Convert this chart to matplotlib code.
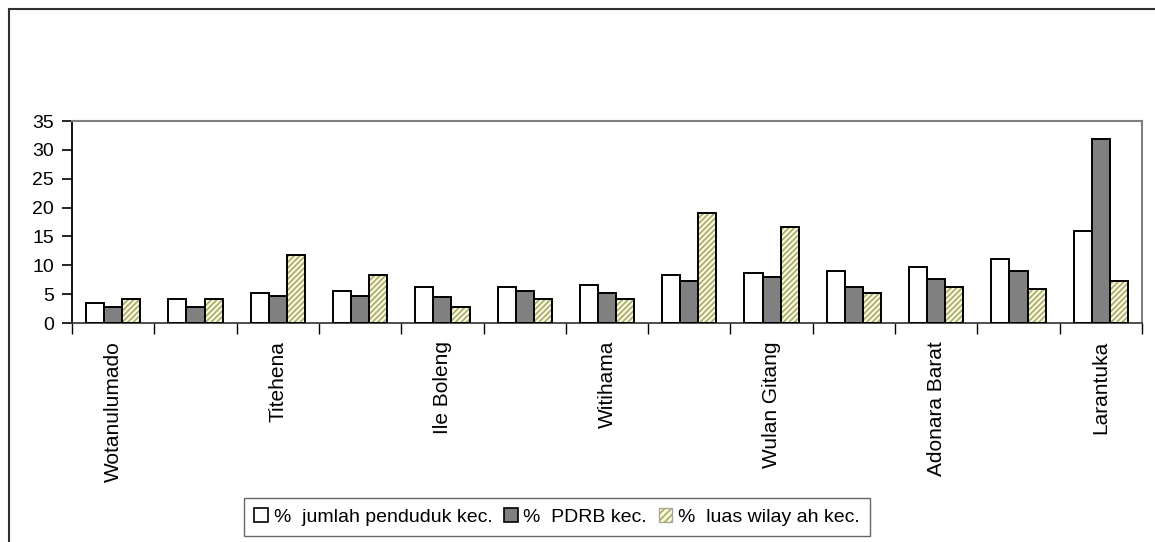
import numpy as np
import matplotlib
matplotlib.use("Agg")
import matplotlib.pyplot as plt
from matplotlib.patches import Patch
from matplotlib.lines import Line2D

# kecamatan, urut menurut % jumlah penduduk (label hanya setiap dua kecamatan)
kecamatan = ["Wotanulumado", "", "Titehena", "", "Ile Boleng", "",
             "Witihama", "", "Wulan Gitang", "", "Adonara Barat", "",
             "Larantuka"]

penduduk = [3.5, 4.2, 5.2, 5.5, 6.2, 6.2, 6.6, 8.3, 8.7, 9.0, 9.7, 11.1, 15.9]
pdrb     = [2.8, 2.8, 4.6, 4.6, 4.5, 5.5, 5.2, 7.3, 8.0, 6.2, 7.6, 9.0, 31.8]
luas     = [4.2, 4.2, 11.8, 8.3, 2.7, 4.2, 4.2, 19.0, 16.6, 5.2, 6.2, 5.9, 7.3]

seri = ["%  jumlah penduduk kec.", "%  PDRB kec.", "%  luas wilay ah kec."]

plt.rcParams["font.family"] = ["Liberation Sans", "DejaVu Sans"]
plt.rcParams["hatch.linewidth"] = 1.3

fig = plt.figure(figsize=(11.55, 5.42), dpi=100)
ax = fig.add_axes([72 / 1155, 1 - 323 / 542, 1070 / 1155, 202 / 542])

x = np.arange(len(penduduk))
w = 0.22
kuning = "#ffffc8"
garis = "#a8a890"

ax.bar(x - w, penduduk, w, color="white", edgecolor="black", linewidth=1.4, zorder=3)
ax.bar(x, pdrb, w, color="#808080", edgecolor="black", linewidth=1.4, zorder=3)
ax.bar(x + w, luas, w, color=kuning, edgecolor=garis, hatch="//////", linewidth=0, zorder=3)
ax.bar(x + w, luas, w, color="none", edgecolor="black", linewidth=1.4, zorder=4)

ax.set_xlim(-0.5, len(x) - 0.5)
ax.set_ylim(0, 35)
ax.set_yticks(np.arange(0, 36, 5))
ax.tick_params(axis="y", labelsize=14, length=7, width=1.2, pad=6, colors="black")

ax.set_xticks(np.arange(-0.5, len(x), 1))
ax.set_xticklabels([])
ax.tick_params(axis="x", which="major", length=8, width=1.0)
ax.set_xticks(x, minor=True)
ax.set_xticklabels(kecamatan, minor=True, rotation=90, fontsize=15, va="top")
ax.tick_params(axis="x", which="minor", length=0, pad=13)

ax.spines["top"].set_color("#808080")
ax.spines["right"].set_color("#808080")
ax.spines["top"].set_linewidth(1.5)
ax.spines["right"].set_linewidth(1.5)
ax.spines["left"].set_linewidth(1.3)
ax.spines["bottom"].set_linewidth(1.3)
ax.spines["bottom"].set_color("#404040")

# bingkai luar grafik
fig.add_artist(Line2D([8.5 / 1155, 8.5 / 1155], [0, 1 - 9 / 542], color="#303030", lw=1.5))
fig.add_artist(Line2D([8.5 / 1155, 1], [1 - 9 / 542, 1 - 9 / 542], color="#303030", lw=1.5))

handles = [
    Patch(facecolor="white", edgecolor="black", linewidth=1.2),
    Patch(facecolor="#808080", edgecolor="black", linewidth=1.2),
    Patch(facecolor=kuning, edgecolor=garis, hatch="/////", linewidth=1.0),
]
leg = fig.legend(handles, seri, loc="center", bbox_to_anchor=(557 / 1155, 1 - 517 / 542),
                 ncol=3, fontsize=14, frameon=True, fancybox=False, edgecolor="#404040",
                 handlelength=0.7, handleheight=0.7, handletextpad=0.3, columnspacing=0.6,
                 borderpad=0.5)
leg.get_frame().set_linewidth(1.0)

fig.savefig("out.png", dpi=100, facecolor="white")
